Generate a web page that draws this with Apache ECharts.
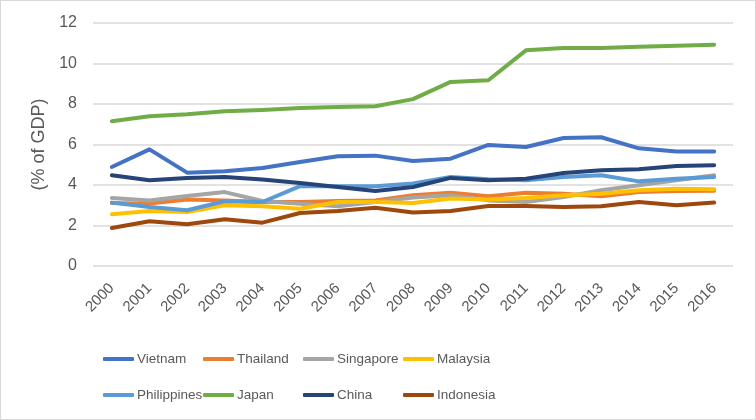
<!DOCTYPE html>
<html>
<head>
<meta charset="utf-8">
<script src="https://cdn.jsdelivr.net/npm/echarts@6/dist/echarts.min.js"></script>
<style>
html,body{margin:0;padding:0;background:#fff;}
#c{width:756px;height:420px;box-sizing:border-box;border:1px solid #d9d9d9;}
</style>
</head>
<body>
<div id="c"></div>
<script>
const years = ['2000','2001','2002','2003','2004','2005','2006','2007','2008','2009','2010','2011','2012','2013','2014','2015','2016'];
const vietnam     = [4.89,5.76,4.61,4.68,4.84,5.14,5.42,5.45,5.19,5.30,5.98,5.88,6.32,6.36,5.81,5.66,5.66];
const thailand    = [3.11,3.08,3.28,3.24,3.16,3.16,3.21,3.24,3.49,3.62,3.44,3.62,3.57,3.44,3.65,3.70,3.72];
const singapore   = [3.36,3.24,3.46,3.65,3.21,3.08,2.95,3.16,3.38,3.49,3.24,3.16,3.41,3.74,3.99,4.23,4.48];
const malaysia    = [2.55,2.72,2.67,3.00,2.95,2.83,3.16,3.16,3.11,3.33,3.28,3.36,3.49,3.57,3.74,3.82,3.79];
const philippines = [3.13,2.91,2.75,3.20,3.16,3.94,3.94,3.94,4.07,4.40,4.28,4.23,4.40,4.48,4.18,4.31,4.40];
const japan       = [7.15,7.39,7.49,7.64,7.70,7.80,7.85,7.89,8.24,9.09,9.17,10.65,10.77,10.77,10.83,10.88,10.93];
const china       = [4.48,4.23,4.35,4.40,4.27,4.10,3.90,3.70,3.90,4.35,4.23,4.31,4.59,4.73,4.78,4.94,4.97];
const indonesia   = [1.88,2.21,2.06,2.31,2.14,2.62,2.72,2.88,2.64,2.72,2.96,2.96,2.91,2.95,3.16,3.00,3.13];
const yTicks = [0,2,4,6,8,10,12];

const names = ['Vietnam','Thailand','Singapore','Malaysia','Philippines','Japan','China','Indonesia'];
const values = [vietnam,thailand,singapore,malaysia,philippines,japan,china,indonesia];
const colors = ['#4472C4','#ED7D31','#A5A5A5','#FFC000','#5B9BD5','#70AD47','#264478','#9E480E'];
const font = '"Liberation Sans", Arial, sans-serif';

const chart = echarts.init(document.getElementById('c'), null, {renderer:'canvas'});
chart.setOption({
  animation:false,
  color:colors,
  grid:{left:92,right:22,top:22,bottom:153},
  xAxis:{
    type:'category', data:years, boundaryGap:true,
    axisLine:{show:false}, axisTick:{show:false},
    axisLabel:{rotate:45, fontSize:15, color:'#595959', fontFamily:font, margin:20, interval:0}
  },
  yAxis:{
    type:'value', min:yTicks[0], max:yTicks[yTicks.length-1], interval:2,
    name:'(% of GDP)', nameLocation:'middle', nameGap:40,
    nameTextStyle:{fontSize:18, color:'#595959', fontFamily:font},
    axisLine:{show:false}, axisTick:{show:false},
    axisLabel:{fontSize:16, color:'#595959', fontFamily:font, margin:16},
    splitLine:{lineStyle:{color:'#D9D9D9', width:1.5}}
  },
  legend:{
    left:97, top:335, width:460, itemGap:0,
    icon:'roundRect', itemWidth:31, itemHeight:4,
    textStyle:{fontSize:13.5, color:'#595959', fontFamily:font, width:66, lineHeight:36, padding:[0,0,0,-2]},
    data:names
  },
  series:names.map((n,i)=>({
    name:n, type:'line', data:values[i], symbol:'none',
    lineStyle:{width:4, color:colors[i], cap:'round', join:'round'},
    itemStyle:{color:colors[i]}
  }))
});
</script>
</body>
</html>
